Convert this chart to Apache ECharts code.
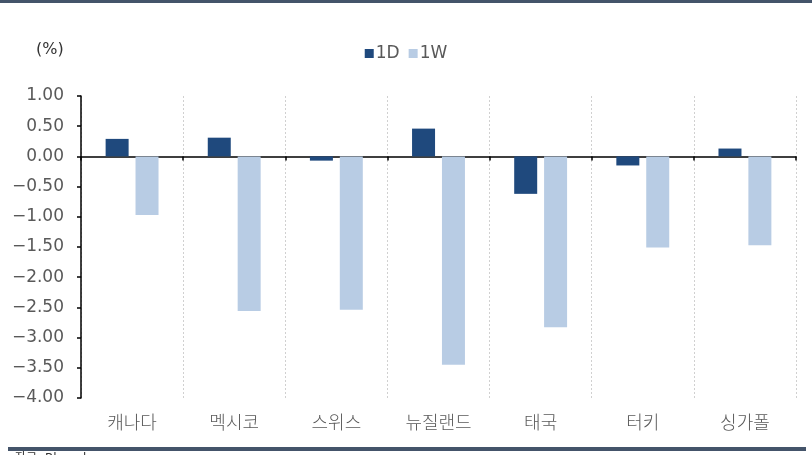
<!DOCTYPE html>
<html lang="ko">
<head>
    <meta charset="UTF-8">
    <title>Chart</title>
    <script type="text/javascript" src="https://cdn.jsdelivr.net/npm/echarts@6/dist/echarts.min.js"></script>
    <style>
        html, body { margin: 0; padding: 0; background: #fff; }
        #main { width: 812px; height: 455px; }
    </style>
</head>
<body>
<div id="main"></div>
<script type="text/javascript">
    // 데이터
    var categories = ['캐나다', '멕시코', '스위스', '뉴질랜드', '태국', '터키', '싱가폴'];
    var seriesNames = ['1D', '1W'];
    var values1D = [0.29, 0.31, -0.07, 0.46, -0.62, -0.15, 0.13];
    var values1W = [-0.97, -2.56, -2.54, -3.45, -2.83, -1.51, -1.47];
    var yTicks = { min: -4, max: 1, interval: 0.5 };

    var labelFont = 'DejaVu Sans, "Noto Sans CJK KR", sans-serif';
    var korFont = '"Noto Sans CJK KR", sans-serif';

    var myChart = echarts.init(document.getElementById('main'));
    var option = {
        animation: false,
        backgroundColor: '#fff',
        color: ['#1F497D', '#B8CCE4'],
        legend: {
            data: seriesNames,
            top: 40,
            left: 'center',
            itemWidth: 9,
            itemHeight: 9,
            itemGap: 9,
            icon: 'rect',
            textStyle: { color: '#595959', fontSize: 17, fontFamily: labelFont, padding: [0, 0, 0, -3] }
        },
        graphic: [
            { type: 'rect', shape: { x: 0, y: 0, width: 812, height: 3 }, style: { fill: '#44546A' } },
            { type: 'rect', shape: { x: 8, y: 447, width: 798, height: 4 }, style: { fill: '#44546A' } },
            { type: 'text', left: 36, top: 42, style: { text: '(%)', fill: '#333', fontSize: 16, fontFamily: labelFont } },
            { type: 'text', left: 15, top: 453, style: { text: '자료: Bloomberg', fill: '#333', fontSize: 12, fontFamily: labelFont } }
        ],
        grid: { left: 81, right: 16, top: 96, bottom: 57 },
        xAxis: [{
            type: 'category',
            data: categories,
            axisLine: { onZero: true, lineStyle: { color: '#000', width: 1.5 } },
            axisTick: { show: true, length: 4, lineStyle: { color: '#000', width: 1.5 } },
            axisLabel: { show: false },
            splitLine: { show: false }
        }, {
            type: 'category',
            data: categories,
            position: 'bottom',
            axisLine: { show: false },
            axisTick: { show: false },
            axisLabel: { color: '#595959', fontSize: 18, fontFamily: korFont, fontWeight: 300, margin: 15 },
            splitLine: { show: true, lineStyle: { color: '#D0D0D0', type: [2, 2], width: 1 } }
        }],
        yAxis: {
            type: 'value',
            min: yTicks.min,
            max: yTicks.max,
            interval: yTicks.interval,
            axisLine: { show: true, lineStyle: { color: '#000', width: 1.5 } },
            axisTick: { show: true, length: 4, lineStyle: { color: '#000', width: 1.5 } },
            axisLabel: {
                color: '#595959', fontSize: 17, fontFamily: labelFont, margin: 17,
                formatter: function (v) { return (v < 0 ? '\u2212' : '') + Math.abs(v).toFixed(2); }
            },
            splitLine: { show: false }
        },
        series: [{
            name: seriesNames[0],
            type: 'bar',
            data: values1D,
            barWidth: 23,
            barGap: '30%'
        }, {
            name: seriesNames[1],
            type: 'bar',
            data: values1W,
            barWidth: 23,
            barGap: '30%'
        }]
    };
    myChart.setOption(option);
</script>
</body>
</html>
